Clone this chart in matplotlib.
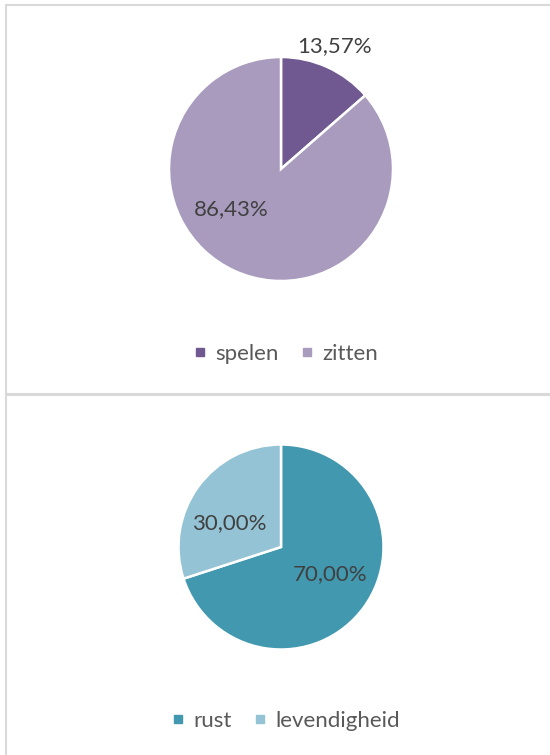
import matplotlib.pyplot as plt
from matplotlib.lines import Line2D

# data
top_labels = ["spelen", "zitten"]
top_values = [13.57, 86.43]
top_colors = ["#705990", "#A99BBD"]

bottom_labels = ["rust", "levendigheid"]
bottom_values = [70.00, 30.00]
bottom_colors = ["#4198AF", "#93C3D4"]

plt.rcParams["font.family"] = ["Lato", "DejaVu Sans"]
W, H = 550, 755
fig = plt.figure(figsize=(W / 100, H / 100), dpi=100)
fig.patch.set_facecolor("white")


def fmt(p):
    return f"{p:.2f}%".replace(".", ",")


def draw_pie(cx, cy, r, values, colors, labels, label_pos, legend_y):
    ax = fig.add_axes([(cx - r) / W, 1 - (cy + r) / H, 2 * r / W, 2 * r / H])
    wedges, _ = ax.pie(values, colors=colors, startangle=90, counterclock=False,
                       wedgeprops=dict(edgecolor="white", linewidth=1.8))
    ax.set_xlim(-1, 1)
    ax.set_ylim(-1, 1)
    ax.set_aspect("equal")
    ax.axis("off")
    for v, (x, y) in zip(values, label_pos):
        ax.text(x, y, fmt(v), ha="center", va="center", fontsize=16,
                color="#404040", clip_on=False)
    # square markers for the legend
    handles = [Line2D([], [], marker="s", markersize=5.5, linestyle="none",
                      color=c) for c in colors]
    fig.legend(handles, labels, loc="center", bbox_to_anchor=(287 / W, 1 - legend_y / H),
               ncol=2, frameon=False, fontsize=16, labelcolor="#595959",
               handlelength=0.35, handletextpad=0.5, columnspacing=1.1)


draw_pie(281, 169, 112, top_values, top_colors, top_labels,
         [(0.48, 1.10), (-0.44, -0.36)], 354)
draw_pie(281, 547, 102.5, bottom_values, bottom_colors, bottom_labels,
         [(0.475, -0.26), (-0.50, 0.23)], 721)

# chart borders
border = "#D9D9D9"
fig.add_artist(Line2D([6 / W, 6 / W], [0, 1 - 5 / H], transform=fig.transFigure,
                      color=border, lw=1.5))
fig.add_artist(Line2D([6 / W, 1], [1 - 5 / H, 1 - 5 / H], transform=fig.transFigure,
                      color=border, lw=1.5))
fig.add_artist(Line2D([6 / W, 1], [1 - 393.5 / H, 1 - 393.5 / H], transform=fig.transFigure,
                      color=border, lw=2.2))

fig.savefig("out.png", dpi=100, facecolor="white")
